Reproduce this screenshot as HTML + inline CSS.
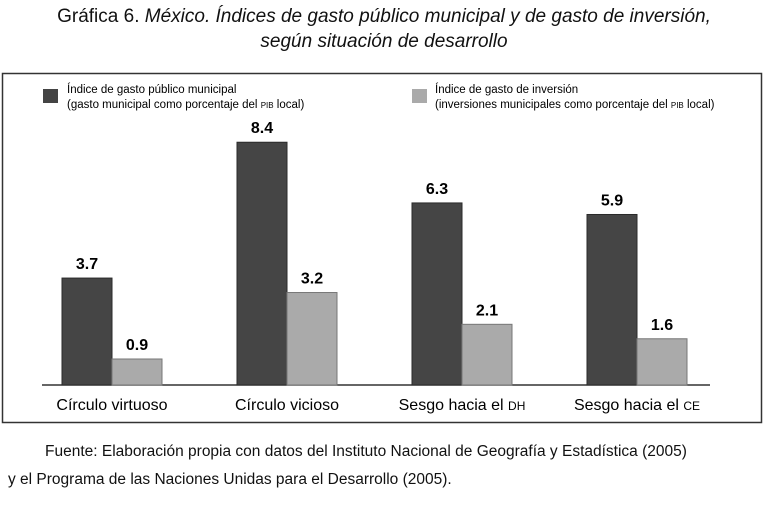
<!DOCTYPE html>
<html><head><meta charset="utf-8"><style>
body{margin:0;width:768px;height:505px;background:#fff;font-family:"Liberation Sans",sans-serif;color:#111;position:relative;overflow:hidden}
.t{position:absolute;left:0;width:768px;text-align:center;font-size:19px}
.f{position:absolute;font-size:15.5px}
</style></head><body>
<div class="t" style="top:6px">Gráfica 6. <i>México. Índices de gasto público municipal y de gasto de inversión,</i></div>
<div class="t" style="top:31px"><i>según situación de desarrollo</i></div>
<svg id="c" width="768" height="430" style="position:absolute;left:0;top:0" font-family="Liberation Sans, sans-serif">
<rect x="2.5" y="73.5" width="759" height="349" fill="none" stroke="#333" stroke-width="1.5"/>
<g>
<rect x="43" y="89" width="15" height="14" fill="#444"/>
<text x="67" y="93" font-size="11.5">Índice de gasto público municipal</text>
<text x="67" y="108" font-size="11.5">(gasto municipal como porcentaje del <tspan font-size="8">PIB</tspan> local)</text>
<rect x="412" y="89" width="15" height="14" fill="#aaa"/>
<text x="435" y="93" font-size="11.5">Índice de gasto de inversión</text>
<text x="435" y="108" font-size="11.5">(inversiones municipales como porcentaje del <tspan font-size="8">PIB</tspan> local)</text>
</g>
<line x1="42" y1="385" x2="710" y2="385" stroke="#333" stroke-width="1.5"/>
<g id="bars"></g>
</svg>
<div class="f" style="left:45px;top:443px">Fuente: Elaboración propia con datos del Instituto Nacional de Geografía y Estadística (2005)</div>
<div class="f" style="left:8px;top:471px">y el Programa de las Naciones Unidas para el Desarrollo (2005).</div>
<script>
const categories=["Círculo virtuoso","Círculo vicioso","Sesgo hacia el DH","Sesgo hacia el CE"];
const gastoMunicipal=[3.7,8.4,6.3,5.9];
const gastoInversion=[0.9,3.2,2.1,1.6];
const ns="http://www.w3.org/2000/svg";
const g=document.getElementById("bars");
const base=385,scale=28.9,x0=62,step=175,bw=50;
function y(v){return base-v*scale;}
function mk(t,a){const e=document.createElementNS(ns,t);for(const k in a)e.setAttribute(k,a[k]);g.appendChild(e);return e;}
categories.forEach((c,i)=>{
 const gx=x0+i*step;
 [[gastoMunicipal[i],"#454545","#2a2a2a"],[gastoInversion[i],"#aaaaaa","#777"]].forEach((s,j)=>{
  const bx=gx+j*bw;
  const r=mk("rect",{x:bx,y:y(s[0]),width:bw,height:base-y(s[0]),fill:s[1],stroke:s[2],"stroke-width":1});
  
  
  const t=mk("text",{x:bx+bw/2,y:y(s[0])-9,"text-anchor":"middle","font-size":"16","font-weight":"bold"});
  t.textContent=s[0].toFixed(1);
  
  
 });
 const l=mk("text",{x:gx+bw,y:410,"text-anchor":"middle","font-size":"16"});
 const parts=c.match(/^(.*?)(DH|CE)?$/);
 l.textContent=parts[1];
 if(parts[2]){const sp=document.createElementNS(ns,"tspan");sp.setAttribute("font-size","12");sp.textContent=parts[2];l.appendChild(sp);}
 
 
});
</script>
</body></html>
